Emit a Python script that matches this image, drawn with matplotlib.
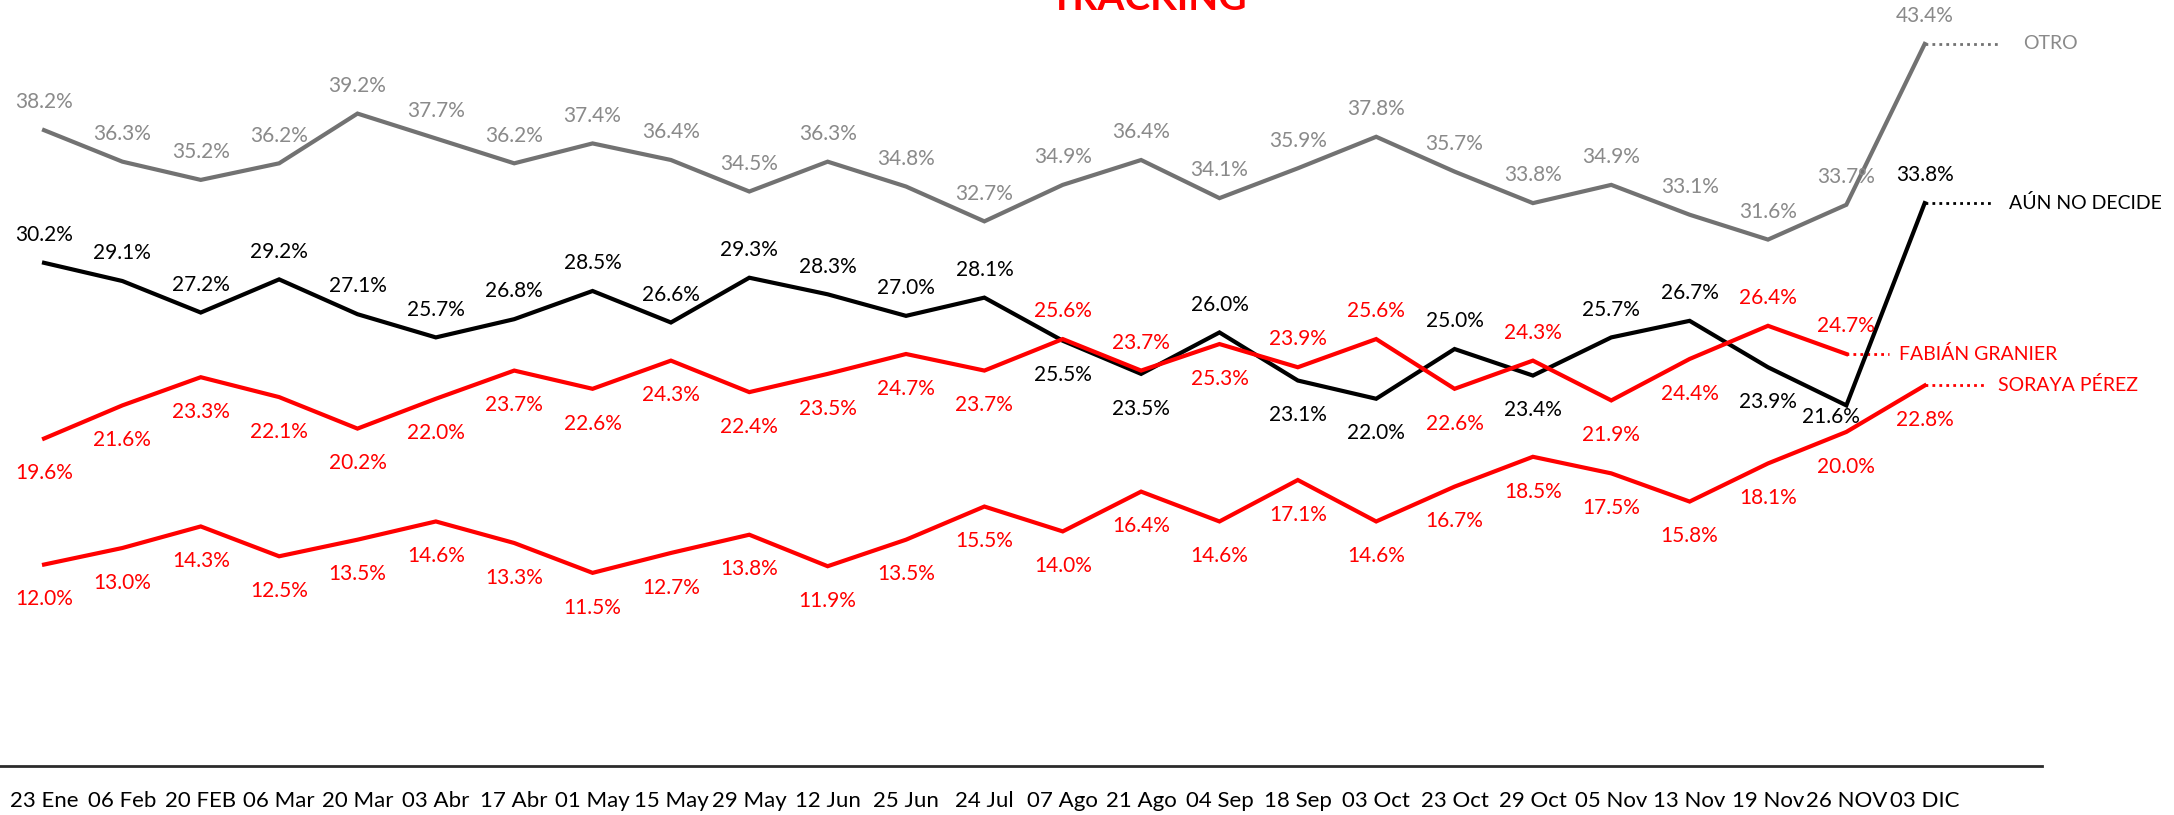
import numpy as np
import matplotlib
matplotlib.use("Agg")
import matplotlib.pyplot as plt

plt.rcParams['font.family'] = ['Lato', 'DejaVu Sans']

fechas = ["23 Ene", "06 Feb", "20 FEB", "06 Mar", "20 Mar", "03 Abr", "17 Abr",
          "01 May", "15 May", "29 May", "12 Jun", "25 Jun", "24 Jul", "07 Ago",
          "21 Ago", "04 Sep", "18 Sep", "03 Oct", "23 Oct", "29 Oct", "05 Nov",
          "13 Nov", "19 Nov", "26 NOV", "03 DIC"]

otro = [38.2, 36.3, 35.2, 36.2, 39.2, 37.7, 36.2, 37.4, 36.4, 34.5, 36.3, 34.8,
        32.7, 34.9, 36.4, 34.1, 35.9, 37.8, 35.7, 33.8, 34.9, 33.1, 31.6, 33.7, 43.4]
aun_no_decide = [30.2, 29.1, 27.2, 29.2, 27.1, 25.7, 26.8, 28.5, 26.6, 29.3, 28.3,
                 27.0, 28.1, 25.5, 23.5, 26.0, 23.1, 22.0, 25.0, 23.4, 25.7, 26.7,
                 23.9, 21.6, 33.8]
fabian = [19.6, 21.6, 23.3, 22.1, 20.2, 22.0, 23.7, 22.6, 24.3, 22.4, 23.5, 24.7,
          23.7, 25.6, 23.7, 25.3, 23.9, 25.6, 22.6, 24.3, 21.9, 24.4, 26.4, 24.7]
soraya = [12.0, 13.0, 14.3, 12.5, 13.5, 14.6, 13.3, 11.5, 12.7, 13.8, 11.9, 13.5,
          15.5, 14.0, 16.4, 14.6, 17.1, 14.6, 16.7, 18.5, 17.5, 15.8, 18.1, 20.0, 22.8]

# where each value label goes: a = above, b = below
pos_otro = "a" * 25
pos_aun = "aaaaaaaaaaaaa" + "bbabbabaabba"
pos_fab = "bbbbbbbbbbbbb" + "aabaababbaa"
pos_sor = "b" * 25

GRAY = "#727272"
GRAY_TXT = "#8a8a8a"
RED = "#ff0000"

fig = plt.figure(figsize=(21.74, 8.15), dpi=100)
ax = fig.add_axes([0, 0.0601, 0.9394, 0.9399])

series = [
    (otro, GRAY, GRAY_TXT, pos_otro, "OTRO", 24.94, 25.26),
    (aun_no_decide, "black", "black", pos_aun, "AÚN NO DECIDE", 24.89, 25.08),
    (fabian, RED, RED, pos_fab, "FABIÁN GRANIER", 23.54, 23.67),
    (soraya, RED, RED, pos_sor, "SORAYA PÉREZ", 24.76, 24.94),
]

for vals, col, tcol, pos, name, dot_end, name_x in series:
    x = np.arange(len(vals))
    ax.plot(x, vals, color=col, lw=3, solid_joinstyle='miter', zorder=3)
    for i, v in enumerate(vals):
        dx, dy = 0, (20 if pos[i] == "a" else -25)
        if name == "AÚN NO DECIDE" and i == 23:
            dx, dy = -11, -8
        ax.annotate(f"{v:.1f}%", (i, v), xytext=(dx, dy), textcoords="offset points",
                    ha="center", va="center", fontsize=15, color=tcol,
                    annotation_clip=False)
    last = len(vals) - 1
    ax.plot([last, dot_end], [vals[-1], vals[-1]], color=col, lw=2,
            linestyle=(0, (1, 1.5)), clip_on=False)
    ax.text(name_x, vals[-1], name, color=tcol, fontsize=14, va="center",
            ha="left", clip_on=False)

ax.set_xlim(-0.562, 25.5)
ax.set_ylim(-0.15, 46.05)
ax.set_xticks(np.arange(len(fechas)))
ax.set_xticklabels(fechas, fontsize=16)
ax.tick_params(axis='x', length=0, pad=18)
ax.set_yticks([])
for s in ["top", "right", "left"]:
    ax.spines[s].set_visible(False)
ax.spines["bottom"].set_color("#2b2b2b")
ax.spines["bottom"].set_linewidth(2)
ax.patch.set_alpha(0)

fig.text(0.528, 1 - 10 / 815, "TRACKING", ha="center", va="baseline",
         fontsize=28, fontweight="bold", color=RED)

fig.savefig("out.png", dpi=100)
